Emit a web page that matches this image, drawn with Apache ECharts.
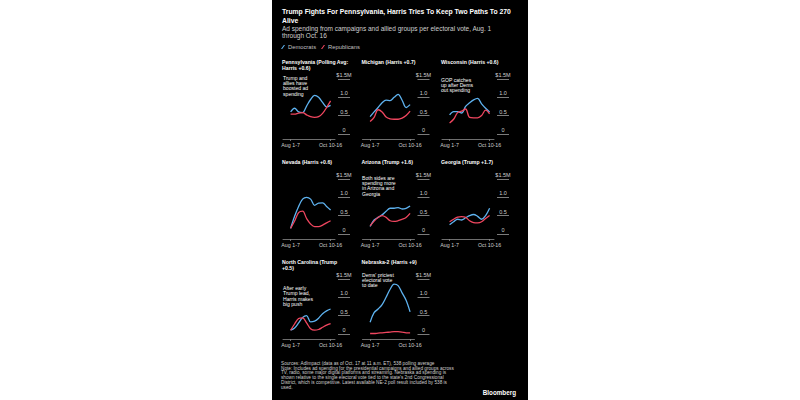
<!DOCTYPE html>
<html>
<head>
<meta charset="utf-8">
<script src="https://cdn.jsdelivr.net/npm/echarts@6/dist/echarts.min.js"></script>
<style>
  html, body { margin: 0; padding: 0; background: #fff; }
  #chart {
    width: 800px;
    height: 400px;
    background: linear-gradient(to right, #fff 272px, #000 272px, #000 528px, #fff 528px);
  }
</style>
</head>
<body>
<div id="chart"></div>
<script>
// weekly buckets, Aug 1-7 through Oct 10-16
const weeks = ['Aug 1-7', 'Aug 8-14', 'Aug 15-21', 'Aug 22-28', 'Aug 29-Sep 4', 'Sep 5-11',
  'Sep 12-18', 'Sep 19-25', 'Sep 26-Oct 2', 'Oct 3-9', 'Oct 10-16']

const panelTitles = [
  'Pennsylvania (Polling Avg:\nHarris +0.6)', 'Michigan (Harris +0.7)', 'Wisconsin (Harris +0.6)',
  'Nevada (Harris +0.6)', 'Arizona (Trump +1.6)', 'Georgia (Trump +1.7)',
  'North Carolina (Trump\n+0.5)', 'Nebraska-2 (Harris +9)',
]

const panelNotes = [
  'Trump and\nallies have\nboosted ad\nspending', '', 'GOP catches\nup after Dems\nout spending',
  '', 'Both sides are\nspending more\nin Arizona and\nGeorgia', '',
  'After early\nTrump lead,\nHarris makes\nbig push', "Dems' priciest\nelectoral vote\nto date",
]

// $M per electoral vote
const demSpend = [
  [0.6, 0.7, 0.6, 0.58, 0.76, 0.94, 1.05, 1.0, 0.86, 0.74, 0.78],
  [0.47, 0.6, 0.72, 0.85, 0.92, 0.91, 1.0, 1.08, 0.92, 0.72, 0.8],
  [0.52, 0.61, 0.61, 0.57, 0.75, 0.85, 0.93, 0.97, 0.82, 0.7, 0.6],
  [0.15, 0.48, 0.75, 0.95, 1.0, 0.95, 0.78, 0.84, 0.85, 0.75, 0.65],
  [0.2, 0.38, 0.45, 0.52, 0.62, 0.7, 0.7, 0.72, 0.68, 0.7, 0.76],
  [0.25, 0.33, 0.4, 0.38, 0.44, 0.5, 0.53, 0.48, 0.4, 0.5, 0.7],
  [0.1, 0.16, 0.3, 0.45, 0.5, 0.33, 0.35, 0.43, 0.55, 0.63, 0.68],
  [0.32, 0.58, 0.68, 0.8, 1.0, 1.22, 1.36, 1.32, 1.12, 0.92, 0.6],
]

const repSpend = [
  [0.54, 0.54, 0.57, 0.58, 0.52, 0.47, 0.45, 0.47, 0.56, 0.72, 0.9],
  [0.34, 0.45, 0.66, 0.6, 0.46, 0.41, 0.4, 0.4, 0.43, 0.5, 0.62],
  [0.3, 0.4, 0.58, 0.62, 0.68, 0.45, 0.44, 0.44, 0.5, 0.65, 0.55],
  [0.15, 0.35, 0.58, 0.62, 0.42, 0.27, 0.2, 0.2, 0.24, 0.3, 0.36],
  [0.22, 0.35, 0.45, 0.5, 0.45, 0.36, 0.34, 0.36, 0.4, 0.45, 0.56],
  [0.33, 0.4, 0.46, 0.47, 0.45, 0.36, 0.31, 0.3, 0.33, 0.42, 0.5],
  [0.1, 0.27, 0.42, 0.44, 0.3, 0.14, 0.1, 0.12, 0.18, 0.24, 0.28],
  [0.01, 0.01, 0.02, 0.03, 0.04, 0.05, 0.06, 0.06, 0.05, 0.03, 0.03],
]

const yTicks = [0, 0.5, 1, 1.5]
const yTickLabels = ['0', '0.5', '1.0', '$1.5M']
const xTicks = [0, weeks.length - 1]

const footnote = [
  'Sources: AdImpact (data as of Oct. 17 at 11 a.m. ET), 538 polling average',
  'Note: Includes ad spending for the presidential campaigns and allied groups across',
  'TV, radio, some major digital platforms and streaming. Nebraska ad spending is',
  "shown relative to the single electoral vote tied to the state's 2nd Congressional",
  'District, which is competitive. Latest available NE-2 poll result included by 538 is',
  'used.',
]

const FONT = "'Liberation Sans', Arial, sans-serif"
const DEM = '#5eb2ef'
const REP = '#f0465f'

// layout
const Y_MIN = -0.14
const Y_MAX = 1.5
const PLOT_W = 52
const PLOT_H = 60
const colX = (c) => 283 + 79.5 * c
const rowY = (r) => 79 + 100 * r
const notePos = [[283, 75], null, [441, 77], null, [362, 175], null, [283, 285.5], [362, 272]]

const chart = echarts.init(document.getElementById('chart'), null, { renderer: 'svg' })

const grids = []
const xAxes = []
const yAxes = []
const series = []
const graphics = []

const text = (x, y, str, font, fill, lineHeight, align) => ({
  type: 'text',
  x, y,
  silent: true,
  style: {
    text: str, font, fill, lineHeight,
    align: align || 'left',
    verticalAlign: 'top',
  },
})

graphics.push(text(282, 7.5,
  'Trump Fights For Pennsylvania, Harris Tries To Keep Two Paths To 270\nAlive',
  `bold 6.8px ${FONT}`, '#fff', 8.5))
graphics.push(text(282, 24.5,
  'Ad spending from campaigns and allied groups per electoral vote, Aug. 1\nthrough Oct. 16',
  `6.5px ${FONT}`, '#d0d0d0', 7.2))

panelTitles.forEach((t, p) => {
  const c = p % 3
  const r = Math.floor(p / 3)
  const left = colX(c)
  const top = rowY(r)

  graphics.push(text(left - 1, top - 20, t, `bold 5.2px ${FONT}`, '#fff', 6))
  if (panelNotes[p]) {
    const [nx, ny] = notePos[p]
    graphics.push(text(nx, ny, panelNotes[p], `5.1px ${FONT}`, '#fff', 5.3))
  }

  // plot grid (index 2p) and the short tick strip to its right (index 2p+1)
  const g = grids.length
  grids.push({ left, top, width: PLOT_W, height: PLOT_H, outerBoundsMode: 'none' })
  grids.push({
    left: left + PLOT_W + 3,
    top,
    width: 12,
    height: PLOT_H * (Y_MAX / (Y_MAX - Y_MIN)),
    outerBoundsMode: 'none',
  })

  xAxes.push({
    gridIndex: g,
    type: 'value',
    min: -1.9,
    max: 11.1,
    axisLine: { show: true, onZero: false, lineStyle: { color: '#8a8a8a', width: 0.8 } },
    axisTick: { show: true, customValues: xTicks, length: 2, lineStyle: { color: '#8a8a8a', width: 0.8 } },
    axisLabel: {
      customValues: xTicks,
      formatter: (v) => weeks[v],
      color: '#cfcfcf',
      fontSize: 5.3,
      fontFamily: FONT,
      margin: 3,
    },
    splitLine: { show: false },
  })
  xAxes.push({ gridIndex: g + 1, type: 'value', show: false })

  yAxes.push({
    gridIndex: g,
    type: 'value',
    min: Y_MIN,
    max: Y_MAX,
    show: false,
  })
  yAxes.push({
    gridIndex: g + 1,
    type: 'value',
    position: 'left',
    min: 0,
    max: Y_MAX,
    interval: 0.5,
    axisLine: { show: false },
    axisTick: { show: false },
    splitLine: { show: true, lineStyle: { color: '#9a9a9a', width: 0.8 } },
    axisLabel: {
      inside: true,
      formatter: (v) => yTickLabels[yTicks.indexOf(v)],
      align: 'center',
      verticalAlign: 'bottom',
      margin: 6,
      padding: [0, 0, 1, 0],
      color: '#cfcfcf',
      fontSize: 5.5,
      fontFamily: FONT,
    },
  })

  series.push({
    name: 'Democrats',
    type: 'line',
    xAxisIndex: g,
    yAxisIndex: g,
    data: demSpend[p].map((v, i) => [i, v]),
    smooth: 0.35,
    showSymbol: false,
    color: DEM,
    lineStyle: { width: 1.3, color: DEM },
  })
  series.push({
    name: 'Republicans',
    type: 'line',
    xAxisIndex: g,
    yAxisIndex: g,
    data: repSpend[p].map((v, i) => [i, v]),
    smooth: 0.35,
    showSymbol: false,
    color: REP,
    lineStyle: { width: 1.3, color: REP },
  })
})

graphics.push(text(281, 361, footnote.join('\n'), `4.7px ${FONT}`, '#cfcfcf', 4.75))
graphics.push(text(516, 388.5, 'Bloomberg', `bold 6.3px ${FONT}`, '#fff', 7, 'right'))

const option = {
  animation: false,
  backgroundColor: 'transparent',
  legend: {
    left: 281,
    top: 44,
    data: [
      { name: 'Democrats', itemStyle: { color: DEM } },
      { name: 'Republicans', itemStyle: { color: REP } },
    ],
    icon: 'path://M0,10 L7,0 L10,0 L3,10 Z',
    itemWidth: 4,
    itemHeight: 6,
    itemGap: 5,
    padding: 0,
    selectedMode: false,
    textStyle: { color: '#c0c0c0', fontSize: 5.8, fontFamily: FONT, padding: [0, 0, 0, -2] },
  },
  grid: grids,
  xAxis: xAxes,
  yAxis: yAxes,
  series,
  graphic: graphics,
}

chart.setOption(option)
</script>
</body>
</html>
